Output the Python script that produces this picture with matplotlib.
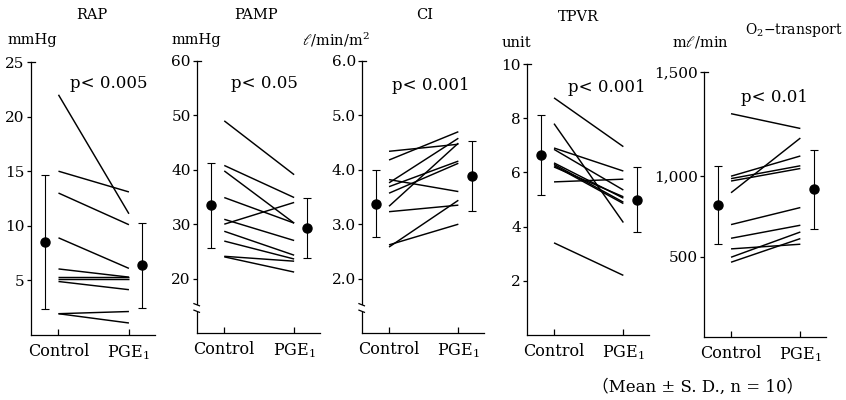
import numpy as np
import matplotlib
matplotlib.use("Agg")
import matplotlib.pyplot as plt
from matplotlib.patches import Rectangle

plt.rcParams["font.family"] = ["DejaVu Serif", "Noto Sans CJK JP"]
plt.rcParams["mathtext.fontset"] = "dejavuserif"

# ---- data -------------------------------------------------------------
groups = ["Control", "PGE$_1$"]

rap_control = [22.0, 15.0, 13.0, 8.9, 6.05, 5.3, 5.1, 4.9, 1.95, 1.95]
rap_pge1 = [11.1, 13.1, 10.1, 6.1, 5.3, 5.3, 5.1, 4.15, 2.15, 1.1]
rap_mean = [8.5, 6.4]
rap_sd = [6.15, 3.9]

pamp_control = [49.0, 40.8, 39.8, 34.9, 30.9, 30.0, 28.7, 26.9, 24.1, 24.0]
pamp_pge1 = [39.1, 34.9, 30.2, 30.2, 27.0, 34.0, 24.3, 23.6, 23.2, 21.2]
pamp_mean = [33.5, 29.3]
pamp_sd = [7.8, 5.6]

ci_control = [4.34, 4.18, 3.82, 3.76, 3.69, 3.57, 3.33, 3.23, 2.62, 2.58]
ci_pge1 = [4.47, 4.70, 3.60, 4.58, 4.16, 4.12, 4.49, 3.35, 3.00, 3.44]
ci_mean = [3.38, 3.89]
ci_sd = [0.61, 0.64]

tpvr_control = [8.75, 7.8, 6.9, 6.85, 6.35, 6.3, 6.25, 6.2, 5.65, 3.4]
tpvr_pge1 = [6.95, 4.15, 6.05, 5.35, 5.05, 4.9, 4.85, 5.1, 5.75, 2.2]
tpvr_mean = [6.64, 5.0]
tpvr_sd = [1.49, 1.19]

o2_control = [1300, 1000, 985, 970, 897, 699, 614, 548, 496, 465]
o2_pge1 = [1229, 1097, 1050, 1037, 1183, 805, 695, 577, 653, 612]
o2_mean = [819, 923]
o2_sd_low = [242, 253]
o2_sd_high = [230, 202]

p_texts = ["p< 0.005", "p< 0.05", "p< 0.001", "p< 0.001", "p< 0.01"]
titles = ["RAP", "PAMP", "CI", "TPVR", "O$_2$\u2212transport"]
units = ["mmHg", "mmHg", "$\\ell$/min/m$^2$", "unit", "m$\\ell$/min"]

rap_ticks = [5, 10, 15, 20, 25]
pamp_ticks = [20, 30, 40, 50, 60]
ci_ticks = [2.0, 3.0, 4.0, 5.0, 6.0]
tpvr_ticks = [2, 4, 6, 8, 10]
o2_ticks = [500, 1000, 1500]
o2_tick_labels = ["500", "1,000", "1,500"]

# ---- figure -----------------------------------------------------------
W, H = 846, 400
fig = plt.figure(figsize=(W / 100, H / 100), dpi=100)


def px_axes(left, right, top, bottom):
    return fig.add_axes([left / W, 1 - bottom / H, (right - left) / W, (bottom - top) / H])


def fig_text(x, y, s, **kw):
    fig.text(x / W, 1 - y / H, s, **kw)


# the O2 axis is drawn stretched above 1,000
O2_K = 1.296


def o2_fwd(v):
    v = np.asarray(v, dtype=float)
    return np.where(v <= 1000, v, 1000 + (v - 1000) * O2_K)


def o2_inv(d):
    d = np.asarray(d, dtype=float)
    return np.where(d <= 1000, d, 1000 + (d - 1000) / O2_K)


panels = [
    dict(rect=(31, 155, 62, 335), ylim=(0, 25), ticks=rap_ticks, labels=None,
         ctrl=rap_control, pge=rap_pge1, mean=rap_mean,
         err=[rap_sd, rap_sd], brk=False),
    dict(rect=(197, 320, 61, 333), ylim=(10, 60), ticks=pamp_ticks, labels=None,
         ctrl=pamp_control, pge=pamp_pge1, mean=pamp_mean,
         err=[pamp_sd, pamp_sd], brk=True),
    dict(rect=(362, 484, 61, 333), ylim=(1.0, 6.0), ticks=ci_ticks,
         labels=[f"{t:.1f}" for t in ci_ticks],
         ctrl=ci_control, pge=ci_pge1, mean=ci_mean,
         err=[ci_sd, ci_sd], brk=True),
    dict(rect=(527, 649, 64, 335), ylim=(0, 10), ticks=tpvr_ticks, labels=None,
         ctrl=tpvr_control, pge=tpvr_pge1, mean=tpvr_mean,
         err=[tpvr_sd, tpvr_sd], brk=False),
    dict(rect=(704, 826, 72, 337), ylim=(0, 1500), ticks=o2_ticks, labels=o2_tick_labels,
         ctrl=o2_control, pge=o2_pge1, mean=o2_mean,
         err=[o2_sd_low, o2_sd_high], brk=False, func=True),
]

for i, p in enumerate(panels):
    ax = px_axes(*p["rect"])
    if p.get("func"):
        ax.set_yscale("function", functions=(o2_fwd, o2_inv))
    ax.set_xlim(-0.39, 1.37)
    ax.set_ylim(*p["ylim"])
    for s in ("top", "right"):
        ax.spines[s].set_visible(False)
    for s in ("left", "bottom"):
        ax.spines[s].set_linewidth(0.9)

    # paired lines, one per patient
    for c, g in zip(p["ctrl"], p["pge"]):
        ax.plot([0, 1], [c, g], color="black", lw=1.05, solid_capstyle="butt")

    # group mean ± SD
    ax.errorbar([-0.19, 1.19], p["mean"], yerr=p["err"], fmt="o", color="black",
                ms=6.5, capsize=2.6, elinewidth=0.8, capthick=0.8)

    ax.set_xticks([0, 1])
    ax.set_xticklabels(groups, fontsize=11.5)
    ax.tick_params(axis="x", direction="in", length=4, width=0.9, pad=6)
    ax.set_yticks(p["ticks"])
    if p["labels"] is not None:
        ax.set_yticklabels(p["labels"])
    ax.yaxis.set_minor_locator(matplotlib.ticker.NullLocator())
    ax.tick_params(axis="y", direction="out", length=3, width=0.9, pad=1.5, labelsize=11)

    # small hook at the top of the value axis
    ax.plot([0, 0.03], [1, 1], transform=ax.transAxes, color="black", lw=0.9,
            clip_on=False)

    if p["brk"]:
        ax.add_patch(Rectangle((-0.03, 0.078), 0.06, 0.024, transform=ax.transAxes,
                               facecolor="white", edgecolor="none", clip_on=False,
                               zorder=5))
        for yb in (0.104, 0.080):
            ax.plot([-0.025, 0.02], [yb + 0.004, yb - 0.004], transform=ax.transAxes,
                    color="black", lw=0.9, clip_on=False, zorder=6)

# panel titles, units and significance
title_pos = [(92, 15, "center"), (256, 15, "center"), (425, 15, "center"),
             (578, 17, "center"), (843, 30, "right")]
unit_pos = [(7, 40), (172, 40), (302, 40), (502, 43), (672, 42)]
p_pos = [(70, 83), (231, 83), (392, 86), (568, 87), (741, 97)]

for t, (x, y, ha) in zip(titles, title_pos):
    fig_text(x, y, t, ha=ha, va="center", fontsize=10.5 if ha == "center" else 10)
for u, (x, y) in zip(units, unit_pos):
    fig_text(x, y, u, ha="left", va="center", fontsize=10.5)
for s, (x, y) in zip(p_texts, p_pos):
    fig_text(x, y, s, ha="left", va="center", fontsize=12)

fig_text(803, 387, "\uff08Mean \u00b1 S. D., n = 10\uff09", ha="right", va="center",
         fontsize=12)

fig.savefig("out.png", dpi=100, facecolor="white")
